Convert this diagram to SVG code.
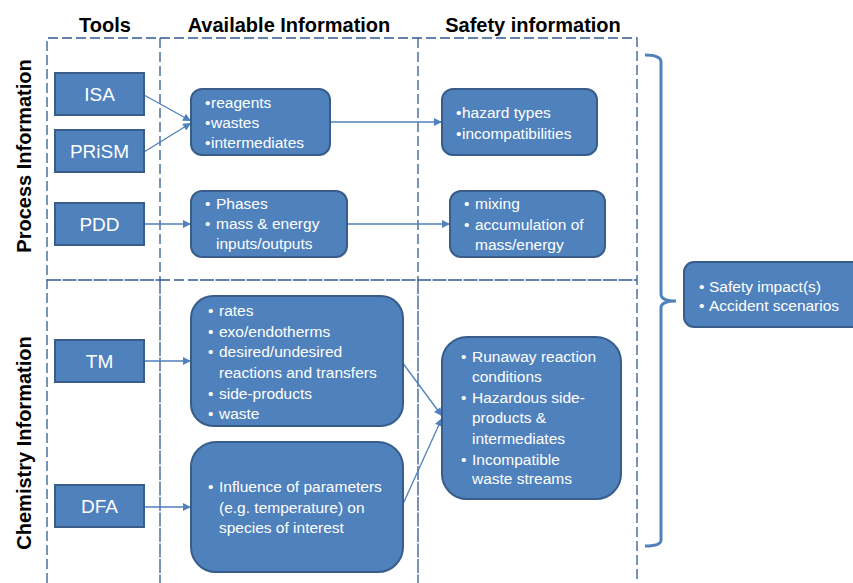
<svg xmlns="http://www.w3.org/2000/svg" width="853" height="583" viewBox="0 0 853 583">
<defs>
<style>
.grid{fill:none;stroke:#2F5A93;stroke-width:1.3;stroke-dasharray:10,4}
.dense{fill:none;stroke:#2F5A93;stroke-width:1.3;stroke-dasharray:14,1.5}
.box{fill:#4F81BD;stroke:#385D8A;stroke-width:2}
.lbl{font-family:"Liberation Sans",Arial,sans-serif;fill:#fff;font-size:19px;text-anchor:middle}
.txt{font-family:"Liberation Sans",Arial,sans-serif;fill:#fff;font-size:15.5px}
.hdr{font-family:"Liberation Sans",Arial,sans-serif;fill:#000;font-size:20px;font-weight:bold;text-anchor:middle}
.conn{fill:none;stroke:#4F81BD;stroke-width:1.3}
.brace{fill:none;stroke:#4F81BD;stroke-width:3}
</style>
<marker id="ah" viewBox="0 0 10 10" refX="10" refY="5" markerWidth="11" markerHeight="8" markerUnits="userSpaceOnUse" orient="auto">
<path d="M0,0 L10,5 L0,10 z" fill="#4F81BD"/>
</marker>
</defs>
<rect width="853" height="583" fill="#fff"/>

<g id="grid">
<path class="grid" d="M47,583 V38 H637 V583"/>
<path class="grid" d="M160,38 V280"/>
<path class="grid" d="M418,38 V280"/>
<path class="dense" d="M160,280 V583"/>
<path class="dense" d="M418,280 V583"/>
<path class="dense" d="M47,280 H160"/>
<path class="grid" d="M160,280 H200"/>
<path class="dense" d="M200,280 H637"/>
</g>

<g id="headers">
<text class="hdr" x="105" y="32">Tools</text>
<text class="hdr" x="289" y="32">Available Information</text>
<text class="hdr" x="533" y="32">Safety information</text>
<text class="hdr" transform="translate(31,156) rotate(-90)">Process Information</text>
<text class="hdr" transform="translate(31,443) rotate(-90)">Chemistry Information</text>
</g>

<g id="connectors">
<path class="conn" d="M144,95 L191,121" marker-end="url(#ah)"/>
<path class="conn" d="M144,152 L191,123" marker-end="url(#ah)"/>
<path class="conn" d="M144,224 H191" marker-end="url(#ah)"/>
<path class="conn" d="M330,122 H442" marker-end="url(#ah)"/>
<path class="conn" d="M347,224 H450" marker-end="url(#ah)"/>
<path class="conn" d="M144,361 H191" marker-end="url(#ah)"/>
<path class="conn" d="M144,507 H191" marker-end="url(#ah)"/>
<path class="conn" d="M402,362 L442,416" marker-end="url(#ah)"/>
<path class="conn" d="M403,504 L442,418" marker-end="url(#ah)"/>
</g>

<g id="brace">
<path class="brace" d="M645,55 Q661,55 661,62 V294 Q661,301 676,301 Q661,301 661,308 V540 Q661,546 645,546"/>
</g>

<g id="ISA">
<rect class="box" x="55" y="73" width="89" height="42"/>
<text class="lbl" x="99.5" y="101">ISA</text>
</g>
<g id="PRiSM">
<rect class="box" x="55" y="130" width="89" height="42"/>
<text class="lbl" x="99.5" y="158">PRiSM</text>
</g>
<g id="PDD">
<rect class="box" x="55" y="203" width="89" height="42"/>
<text class="lbl" x="99.5" y="231">PDD</text>
</g>
<g id="TM">
<rect class="box" x="55" y="340" width="89" height="42"/>
<text class="lbl" x="99.5" y="368">TM</text>
</g>
<g id="DFA">
<rect class="box" x="55" y="485" width="89" height="42"/>
<text class="lbl" x="99.5" y="513">DFA</text>
</g>

<g id="materials">
<rect class="box" x="191" y="89" width="139" height="66" rx="11"/>
<text class="txt"><tspan x="205" y="108">•</tspan><tspan x="211">reagents</tspan><tspan x="205" y="128">•</tspan><tspan x="211">wastes</tspan><tspan x="205" y="148">•</tspan><tspan x="211">intermediates</tspan></text>
</g>
<g id="phases">
<rect class="box" x="191" y="191" width="156" height="66" rx="11"/>
<text class="txt"><tspan x="205" y="209">•</tspan><tspan x="216">Phases</tspan><tspan x="205" y="229">•</tspan><tspan x="216">mass &amp; energy</tspan><tspan x="216" y="249">inputs/outputs</tspan></text>
</g>
<g id="hazards">
<rect class="box" x="442" y="89" width="155" height="66" rx="11"/>
<text class="txt"><tspan x="456" y="118">•</tspan><tspan x="462">hazard types</tspan><tspan x="456" y="139">•</tspan><tspan x="462">incompatibilities</tspan></text>
</g>
<g id="mixing">
<rect class="box" x="450" y="191" width="155" height="66" rx="11"/>
<text class="txt"><tspan x="464" y="209">•</tspan><tspan x="475">mixing</tspan><tspan x="464" y="230">•</tspan><tspan x="475">accumulation of</tspan><tspan x="475" y="250">mass/energy</tspan></text>
</g>
<g id="rates">
<rect class="box" x="191" y="296" width="212" height="130" rx="22"/>
<text class="txt"><tspan x="208" y="316">•</tspan><tspan x="219">rates</tspan><tspan x="208" y="337">•</tspan><tspan x="219">exo/endotherms</tspan><tspan x="208" y="357">•</tspan><tspan x="219">desired/undesired</tspan><tspan x="219" y="378">reactions and transfers</tspan><tspan x="208" y="399">•</tspan><tspan x="219">side-products</tspan><tspan x="208" y="419">•</tspan><tspan x="219">waste</tspan></text>
</g>
<g id="influence">
<rect class="box" x="191" y="442" width="212" height="130" rx="25"/>
<text class="txt"><tspan x="208" y="492">•</tspan><tspan x="219">Influence of parameters</tspan><tspan x="219" y="513">(e.g. temperature) on</tspan><tspan x="219" y="533">species of interest</tspan></text>
</g>
<g id="runaway">
<rect class="box" x="442" y="337" width="179" height="162" rx="25"/>
<text class="txt"><tspan x="461" y="362">•</tspan><tspan x="472">Runaway reaction</tspan><tspan x="472" y="382">conditions</tspan><tspan x="461" y="403">•</tspan><tspan x="472">Hazardous side-</tspan><tspan x="472" y="423">products &amp;</tspan><tspan x="472" y="444">intermediates</tspan><tspan x="461" y="465">•</tspan><tspan x="472">Incompatible</tspan><tspan x="472" y="484">waste streams</tspan></text>
</g>
<g id="impact">
<rect class="box" x="684" y="262" width="180" height="65" rx="10"/>
<text class="txt"><tspan x="699" y="292">•</tspan><tspan x="709">Safety impact(s)</tspan><tspan x="699" y="311">•</tspan><tspan x="709">Accident scenarios</tspan></text>
</g>
</svg>
